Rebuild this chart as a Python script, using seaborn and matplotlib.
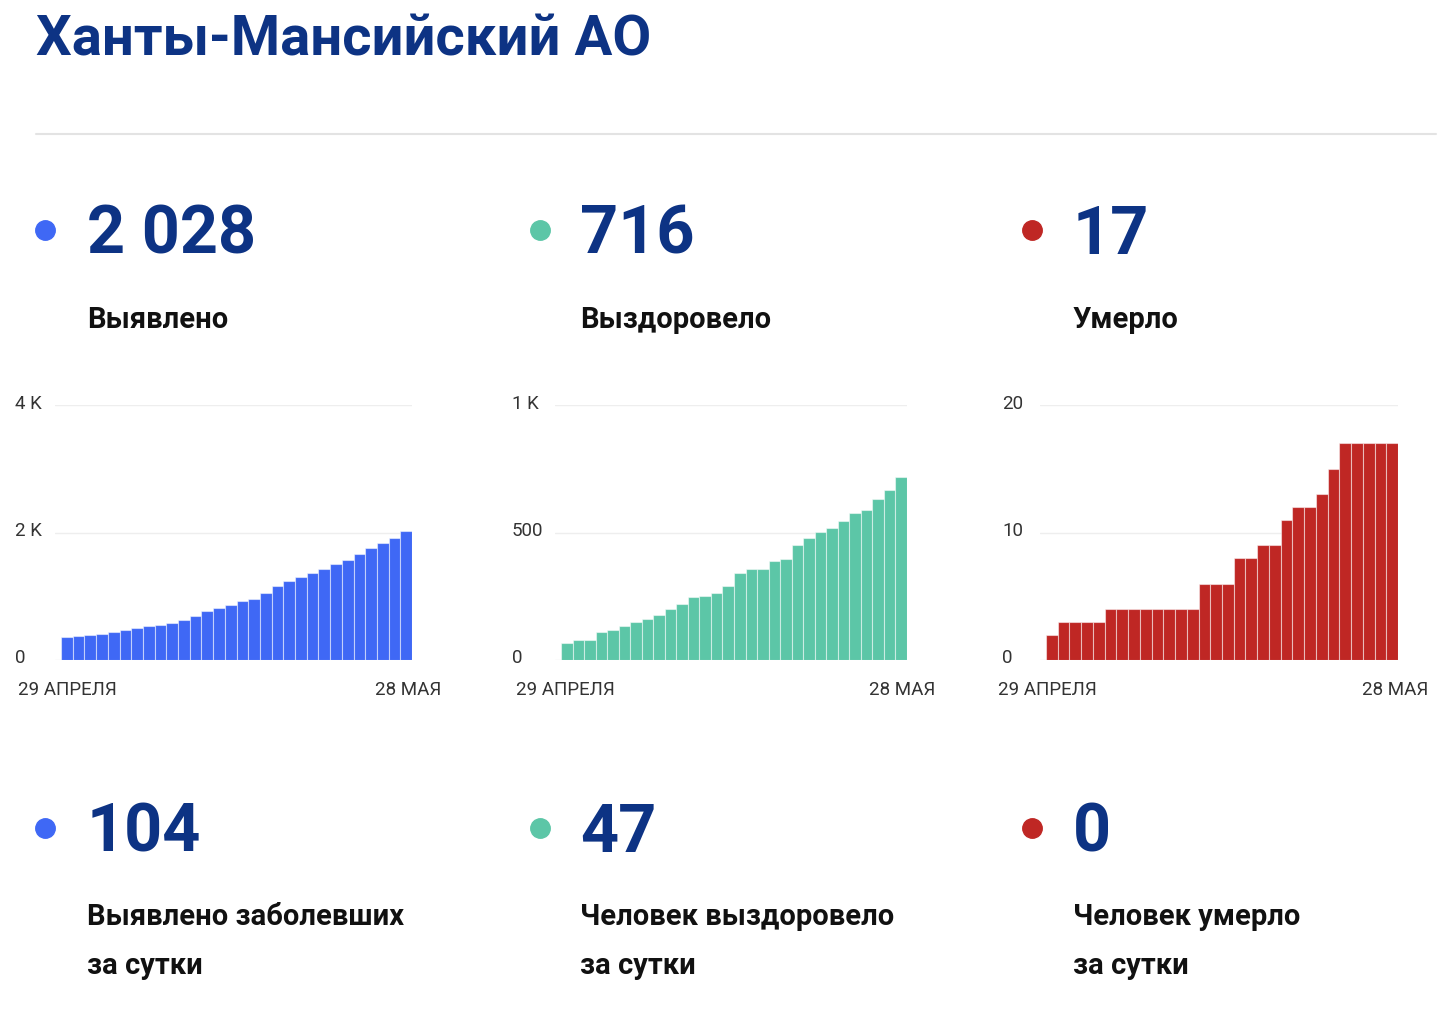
import matplotlib
matplotlib.use("Agg")
import matplotlib.pyplot as plt
import seaborn as sns
import pandas as pd
from matplotlib.lines import Line2D

sns.set_theme(style="white")
plt.rcParams['font.family'] = ['Roboto', 'DejaVu Sans']

title = "Ханты-Мансийский АО"
days = list(range(30))

cases = [360, 380, 400, 410, 445, 465, 500, 535, 550, 575, 625, 685, 775, 815, 855,
         925, 955, 1045, 1160, 1245, 1300, 1365, 1425, 1505, 1565, 1665, 1750, 1840, 1920, 2028]
recovered = [65, 78, 78, 111, 118, 135, 149, 160, 176, 201, 218, 247, 251, 264, 290,
             340, 356, 358, 388, 395, 451, 477, 501, 519, 544, 578, 588, 633, 667, 716]
deaths = [2, 3, 3, 3, 3, 4, 4, 4, 4, 4, 4, 4, 4, 6, 6, 6, 8, 8, 9, 9,
          11, 12, 12, 13, 15, 17, 17, 17, 17, 17]

totals = ["2 028", "716", "17"]
total_labels = ["Выявлено", "Выздоровело", "Умерло"]
daily = ["104", "47", "0"]
daily_labels = [["Выявлено заболевших", "за сутки"], ["Человек выздоровело", "за сутки"],
                ["Человек умерло", "за сутки"]]
ymax = [4000, 1000, 20]
ytick_labels = [["0", "2 K", "4 K"], ["0", "500", "1 K"], ["0", "10", "20"]]
date_start, date_end = "29 АПРЕЛЯ", "28 МАЯ"
colors = ["#3f68f5", "#5cc6a7", "#bf2724"]

W, H = 1452, 1032
fig = plt.figure(figsize=(W / 100, H / 100), dpi=100)
navy = "#0d3384"
grey = "#333333"

def fx(px):
    return px / W

def fy(py):
    return 1 - py / H

fig.text(fx(36), fy(40), title, fontsize=40.5, fontweight="bold", color=navy, va="center")
fig.add_artist(Line2D([fx(36), fx(1436)], [fy(134), fy(134)], color="#e3e3e3", lw=1.5))

cols = [
    dict(dot=45, text=87, ax_l=55, ax_r=412, ylab=15, d0=18, d1=441),
    dict(dot=540, text=580, ax_l=555, ax_r=907, ylab=512, d0=516, d1=935),
    dict(dot=1032, text=1073, ax_l=1040, ax_r=1398, ylab=1002, d0=998, d1=1428),
]
series = [cases, recovered, deaths]

for i, c in enumerate(cols):
    # big numbers and captions
    for y_num, num in [(230, totals[i]), (828, daily[i])]:
        fig.add_artist(Line2D([fx(c["dot"])], [fy(y_num)], marker="o", markersize=14,
                              color=colors[i], lw=0))
        fig.text(fx(c["text"]), fy(y_num + 6), num, fontsize=48, fontweight="bold",
                 color=navy, va="center")
    fig.text(fx(c["text"]), fy(320), total_labels[i], fontsize=21, fontweight="bold",
             color="#111111", va="center")
    for k, line in enumerate(daily_labels[i]):
        fig.text(fx(c["text"]), fy(917 + 49 * k), line, fontsize=21, fontweight="bold",
                 color="#111111", va="center")

    ax = fig.add_axes([fx(c["ax_l"]), fy(660), fx(c["ax_r"] - c["ax_l"]), 255 / H])
    df = pd.DataFrame({"day": days, "value": series[i]})
    sns.barplot(data=df, x="day", y="value", color=colors[i], width=1.0,
                edgecolor="#ffffff", linewidth=0.8, saturation=1, ax=ax)
    for p in ax.patches:
        p.set_edgecolor((1, 1, 1, 0.5))
    span = c["ax_r"] - c["ax_l"]
    bar_w = (span - 6) / 30
    ax.set_xlim(29.5 - span / bar_w, 29.5)
    ax.set_ylim(0, ymax[i])
    ax.set_yticks([0, ymax[i] / 2, ymax[i]])
    ax.yaxis.grid(True, color="#eeeeee", lw=1)
    ax.set_axisbelow(True)
    ax.tick_params(left=False, bottom=False, labelleft=False, labelbottom=False)
    for s in ax.spines.values():
        s.set_visible(False)
    ax.set_xlabel("")
    ax.set_ylabel("")
    for k, py in enumerate([658, 531, 404]):
        fig.text(fx(c["ylab"]), fy(py), ytick_labels[i][k], fontsize=13.5,
                 color=grey, va="center")
    fig.text(fx(c["d0"]), fy(690), date_start, fontsize=13.5, color=grey, va="center")
    fig.text(fx(c["d1"]), fy(690), date_end, fontsize=13.5, color=grey, va="center", ha="right")

fig.savefig("out.png", dpi=100)
